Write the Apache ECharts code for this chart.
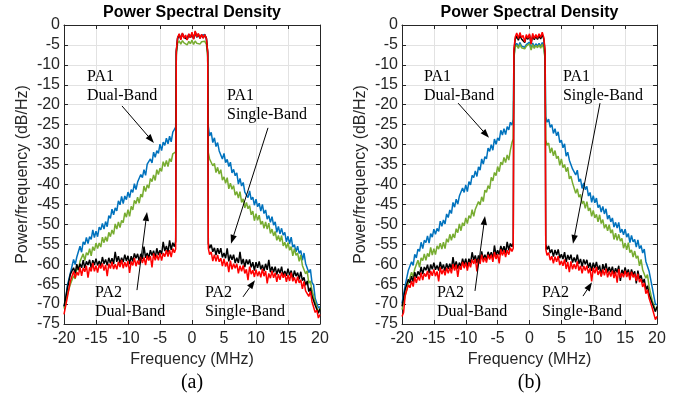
<!DOCTYPE html>
<html>
<head>
<meta charset="utf-8">
<script src="https://cdn.jsdelivr.net/npm/echarts@6.0.0/dist/echarts.min.js"></script>
<style>
html,body{margin:0;padding:0;background:#fff;}
#c{width:680px;height:398px;}
</style>
</head>
<body>
<div id="c"></div>
<script>
// ---------- DATA ----------
const freq = [
  -20,-19.75,-19.5,-19.25,-19,-18.75,-18.5,-18.25,-18,-17.75,-17.5,-17.25,-17,-16.75,-16.5,-16.25,-16,-15.75,-15.5,-15.25,
  -15,-14.75,-14.5,-14.25,-14,-13.75,-13.5,-13.25,-13,-12.75,-12.5,-12.25,-12,-11.75,-11.5,-11.25,-11,-10.75,-10.5,-10.25,
  -10,-9.75,-9.5,-9.25,-9,-8.75,-8.5,-8.25,-8,-7.75,-7.5,-7.25,-7,-6.75,-6.5,-6.25,-6,-5.75,-5.5,-5.25,
  -5,-4.75,-4.5,-4.25,-4,-3.75,-3.5,-3.25,-3,
  -2.75,-2.55,
  -2.45,-2.25,-2,-1.75,-1.5,-1.25,-1,-0.75,-0.5,-0.25,0,0.25,0.5,0.75,1,1.25,1.5,1.75,2,2.25,2.45,
  2.55,2.75,
  3,3.25,3.5,3.75,4,4.25,4.5,4.75,5,5.25,5.5,5.75,6,6.25,6.5,6.75,7,7.25,7.5,7.75,
  8,8.25,8.5,8.75,9,9.25,9.5,9.75,10,10.25,10.5,10.75,11,11.25,11.5,11.75,12,12.25,12.5,12.75,
  13,13.25,13.5,13.75,14,14.25,14.5,14.75,15,15.25,15.5,15.75,16,16.25,16.5,16.75,17,17.25,17.5,17.75,
  18,18.25,18.5,18.75,19,19.25,19.5,19.75,20];

const xTicks = [-20,-15,-10,-5,0,5,10,15,20];
const yTicks = [-75,-70,-65,-60,-55,-50,-45,-40,-35,-30,-25,-20,-15,-10,-5,0];

// ----- (a) -----
const blueA = [
  -70.6,-69.2,-65.5,-65.6,-62.2,-61.9,-58.8,-60.1,-58.2,-58.3,-55.5,-57.0,-54.4,-55.1,-53.3,-54.8,-53.1,-53.8,-51.4,-53.3,
  -51.7,-53.1,-50.7,-51.4,-49.8,-51.2,-49.3,-50.6,-47.8,-48.5,-46.2,-47.6,-45.9,-46.6,-44.1,-45.1,-43.0,-44.8,-42.9,-43.8,
  -41.9,-43.3,-41.3,-42.0,-39.8,-41.3,-39.4,-39.9,-37.5,-38.3,-36.3,-37.7,-34.9,-35.4,-33.6,-34.6,-31.9,-33.2,-31.5,-32.2,
  -29.9,-31.5,-29.4,-30.2,-28.4,-29.8,-27.9,-29.3,-26.9,
  -26.2,-25.6,
  -6.8,-3.4,-2.6,-3.3,-2.2,-3.0,-2.9,-3.5,-2.3,-3.2,-2.4,-3.4,-1.9,-3.1,-2.5,-3.2,-2.6,-3.1,-2.4,-3.5,-7.0,
  -25.4,-27.8,
  -26.9,-29.5,-28.3,-30.5,-29.5,-31.6,-31.2,-33.6,-32.2,-34.5,-33.7,-35.5,-34.4,-37.1,-36.2,-37.8,-37.1,-39.9,-38.5,-40.4,
  -39.5,-41.9,-41.5,-43.3,-41.6,-43.8,-43.2,-45.2,-43.7,-45.6,-44.7,-46.7,-45.0,-47.3,-46.4,-48.7,-47.8,-49.5,-48.1,-50.2,
  -49.4,-52.0,-50.5,-52.4,-51.0,-52.7,-52.0,-54.4,-53.0,-54.9,-53.2,-55.7,-55.1,-56.9,-55.5,-57.3,-56.6,-59.0,-57.2,-59.8,
  -59.7,-62.1,-61.3,-64.6,-65.2,-68.6,-68.5,-71.0,-70.6];
const greenA = [
  -71.1,-71.3,-67.8,-68.0,-65.0,-65.2,-62.9,-63.7,-60.7,-61.5,-59.3,-59.8,-57.4,-59.1,-57.1,-57.7,-56.1,-57.9,-55.6,-56.6,
  -54.7,-56.1,-54.7,-55.7,-53.2,-54.6,-53.1,-54.3,-52.0,-53.1,-51.4,-52.5,-49.9,-51.2,-49.4,-50.8,-49.0,-49.6,-47.1,-48.2,
  -46.3,-48.0,-45.5,-46.4,-44.0,-44.8,-43.2,-44.7,-42.4,-43.2,-40.4,-41.8,-40.1,-40.9,-38.5,-39.3,-37.6,-39.0,-36.3,-37.5,
  -35.9,-36.7,-34.3,-35.5,-34.0,-35.5,-33.5,-34.3,-32.3,
  -32.8,-31.8,
  -7.5,-4.6,-4.0,-4.8,-3.9,-4.5,-4.2,-5.0,-4.1,-4.7,-3.8,-4.9,-4.0,-4.6,-4.1,-4.8,-4.2,-4.7,-4.1,-4.9,-7.8,
  -32.0,-33.6,
  -33.1,-35.3,-34.7,-37.0,-35.7,-37.4,-36.3,-38.9,-38.1,-39.7,-38.3,-41.1,-39.7,-41.2,-40.3,-42.7,-41.8,-43.4,-41.8,-44.5,
  -43.6,-45.9,-44.5,-46.1,-45.3,-47.6,-46.7,-49.1,-47.3,-49.0,-47.7,-50.0,-49.2,-51.0,-49.4,-51.2,-49.7,-52.3,-51.2,-52.9,
  -51.8,-54.0,-52.8,-54.3,-52.8,-55.4,-54.5,-56.0,-54.6,-56.5,-55.6,-57.9,-56.1,-57.8,-57.2,-59.3,-57.7,-60.3,-60.0,-62.4,
  -61.7,-64.8,-64.2,-66.6,-66.5,-69.5,-69.3,-72.1,-71.1];
const blackA = [
  -70.6,-70.3,-66.3,-66.0,-62.5,-62.9,-60.9,-62.3,-60.0,-61.5,-59.9,-60.9,-59.0,-61.0,-59.3,-60.2,-58.9,-61.0,-59.0,-60.2,
  -58.6,-60.3,-59.2,-60.4,-58.2,-59.9,-58.8,-60.3,-58.4,-59.8,-58.5,-59.9,-56.9,-59.4,-58.0,-59.8,-58.4,-59.5,-57.6,-59.2,
  -57.9,-60.0,-58.0,-59.3,-57.3,-58.5,-57.4,-59.3,-57.4,-58.7,-55.6,-58.4,-57.2,-58.5,-56.5,-57.8,-56.6,-58.4,-56.0,-57.7,
  -56.5,-57.5,-54.4,-56.7,-55.4,-57.1,-54.0,-56.4,-54.6,
  -55.6,-54.3,
  -6.6,-3.3,-2.4,-3.5,-2.2,-3.1,-2.7,-3.6,-2.4,-3.1,-2.1,-3.4,-1.7,-3.0,-2.3,-3.3,-2.5,-3.2,-2.5,-3.3,-6.9,
  -54.8,-56.0,
  -55.1,-56.9,-55.9,-57.7,-56.0,-57.4,-56.0,-58.3,-57.2,-58.5,-56.0,-59.3,-57.6,-58.9,-57.6,-59.7,-58.4,-59.7,-56.9,-60.0,
  -58.7,-60.7,-58.8,-60.0,-58.8,-60.8,-59.5,-61.6,-59.5,-60.9,-59.3,-61.3,-60.2,-61.7,-59.9,-61.4,-58.9,-62.0,-60.6,-62.0,
  -60.6,-62.6,-61.1,-62.3,-60.6,-62.9,-61.7,-62.9,-61.1,-62.8,-61.6,-63.7,-61.6,-63.0,-62.1,-63.8,-61.9,-64.1,-63.3,-65.3,
  -64.2,-66.9,-65.9,-68.0,-67.5,-70.3,-69.8,-72.3,-71.1];
const redA = [
  -72.6,-72.2,-68.5,-68.1,-64.2,-64.2,-61.8,-63.5,-62.0,-62.8,-60.8,-62.9,-60.9,-61.9,-60.4,-63.4,-60.8,-61.8,-59.7,-61.8,
  -60.4,-62.1,-60.1,-61.1,-59.8,-61.6,-60.2,-63.0,-59.9,-61.1,-59.4,-61.2,-60.0,-61.3,-59.4,-60.7,-58.9,-61.0,-59.5,-60.7,
  -59.2,-62.2,-59.3,-60.3,-58.4,-60.5,-59.1,-60.1,-58.2,-59.7,-58.3,-60.2,-57.9,-59.1,-58.0,-60.8,-57.3,-59.0,-57.7,-59.0,
  -57.2,-59.1,-57.2,-58.1,-56.5,-58.1,-56.5,-58.2,-56.1,
  -57.1,-56.2,
  -6.3,-3.2,-2.2,-3.7,-2.0,-3.3,-2.5,-3.8,-2.2,-3.2,-1.8,-3.6,-1.5,-3.0,-2.1,-3.4,-2.3,-3.3,-2.4,-3.4,-6.6,
  -56.0,-57.6,
  -56.9,-59.2,-57.6,-59.3,-57.7,-59.4,-58.5,-60.5,-58.7,-60.6,-59.4,-62.0,-59.1,-61.3,-59.9,-61.0,-59.9,-62.3,-60.4,-61.8,
  -60.3,-62.3,-61.3,-64.0,-60.6,-62.5,-61.5,-63.2,-61.4,-63.0,-61.8,-63.3,-61.2,-63.0,-61.7,-64.8,-62.3,-63.5,-61.7,-63.4,
  -62.2,-64.4,-62.5,-63.9,-62.1,-63.4,-62.4,-64.4,-62.7,-64.2,-62.1,-64.3,-63.3,-64.8,-63.1,-64.7,-63.9,-66.2,-64.3,-66.7,
  -66.2,-68.1,-66.8,-69.4,-69.2,-72.1,-71.5,-73.5,-72.6];

// ----- (b) -----
const blueB = [
  -69.8,-69.3,-65.3,-65.0,-61.5,-61.7,-59.4,-60.3,-57.5,-58.4,-56.2,-56.8,-54.5,-56.1,-54.0,-54.6,-52.9,-54.7,-52.3,-53.2,
  -51.2,-52.5,-51.0,-51.8,-49.2,-50.5,-48.9,-49.9,-47.4,-48.3,-46.4,-47.3,-44.5,-45.7,-43.7,-44.9,-42.9,-43.4,-40.9,-42.0,
  -40.1,-41.8,-39.3,-40.1,-37.7,-38.3,-36.6,-38.0,-35.6,-36.4,-33.6,-34.9,-33.0,-33.6,-30.9,-31.7,-30.0,-31.4,-28.6,-29.9,
  -28.3,-29.0,-26.4,-27.6,-26.0,-27.5,-25.5,-26.3,-24.4,
  -25.1,-23.6,
  -8.0,-5.2,-4.6,-5.5,-4.4,-5.3,-4.8,-5.6,-4.9,-5.4,-4.3,-6.0,-4.5,-5.5,-4.7,-5.3,-4.6,-5.4,-4.4,-5.6,-8.2,
  -23.0,-24.4,
  -23.6,-25.7,-25.0,-27.2,-26.0,-27.8,-26.8,-29.5,-28.9,-30.8,-29.8,-32.9,-31.9,-33.9,-33.4,-36.1,-35.6,-37.6,-36.4,-39.3,
  -38.6,-41.0,-39.6,-41.3,-40.5,-42.9,-42.0,-44.5,-42.8,-44.6,-43.4,-45.8,-45.1,-46.9,-45.5,-47.4,-46.1,-48.7,-47.7,-49.4,
  -48.4,-50.7,-49.5,-50.9,-49.5,-52.1,-51.2,-52.6,-51.2,-53.2,-52.3,-54.6,-52.8,-54.4,-53.8,-55.7,-53.9,-56.1,-55.3,-57.2,
  -56.2,-59.3,-58.9,-61.7,-62.0,-65.8,-66.3,-70.1,-70.1];
const greenB = [
  -71.4,-71.0,-68.0,-68.1,-64.7,-64.7,-62.0,-63.2,-61.2,-61.5,-59.0,-60.8,-58.4,-59.1,-57.4,-59.0,-57.3,-58.1,-55.8,-57.7,
  -56.1,-57.6,-55.4,-56.2,-54.7,-56.2,-54.5,-56.1,-53.6,-54.5,-52.5,-54.0,-52.4,-53.4,-51.1,-52.1,-49.9,-51.6,-49.6,-50.4,
  -48.4,-49.8,-47.8,-48.5,-46.3,-48.0,-46.2,-46.7,-44.3,-45.1,-43.1,-44.3,-41.4,-42.0,-40.3,-41.1,-38.2,-39.1,-37.0,-37.8,
  -35.5,-36.8,-34.4,-35.1,-33.2,-34.5,-32.6,-33.9,-31.4,
  -29.5,-28.6,
  -8.4,-5.6,-5.0,-5.9,-4.8,-5.7,-5.2,-6.0,-5.3,-5.8,-4.7,-6.3,-4.9,-5.9,-5.1,-5.7,-5.0,-5.8,-4.8,-6.0,-8.6,
  -28.8,-30.2,
  -29.6,-32.1,-30.8,-32.8,-31.5,-33.5,-32.9,-35.2,-33.6,-35.8,-35.0,-36.8,-35.7,-38.6,-37.9,-39.6,-39.1,-42.2,-41.1,-43.2,
  -42.5,-44.8,-44.2,-46.0,-44.3,-46.6,-45.9,-48.0,-46.5,-48.4,-47.5,-49.4,-47.6,-49.8,-48.8,-51.0,-50.0,-51.6,-50.1,-52.2,
  -51.3,-53.8,-52.2,-54.0,-52.5,-54.2,-53.5,-56.0,-54.7,-56.4,-54.6,-57.1,-56.4,-58.2,-56.7,-58.5,-57.9,-60.4,-58.8,-61.4,
  -61.2,-63.5,-62.6,-65.5,-65.7,-69.1,-69.0,-71.5,-71.1];
const blackB = [
  -70.6,-70.1,-66.3,-66.6,-63.8,-64.7,-63.0,-64.4,-62.0,-63.4,-61.8,-62.7,-60.7,-62.5,-60.7,-61.5,-60.1,-62.2,-60.1,-61.3,
  -59.6,-61.4,-60.3,-61.6,-59.4,-61.2,-60.1,-61.7,-59.8,-61.2,-59.9,-61.3,-58.2,-60.8,-59.3,-61.1,-59.6,-60.6,-58.6,-60.1,
  -58.6,-60.7,-58.6,-59.8,-57.0,-59.0,-57.8,-59.7,-57.8,-59.1,-56.8,-58.8,-57.6,-58.9,-56.9,-58.2,-57.0,-58.7,-55.3,-57.8,
  -56.5,-57.6,-55.4,-56.8,-55.5,-57.2,-54.4,-56.5,-54.8,
  -55.6,-54.6,
  -6.8,-3.6,-2.8,-3.8,-2.6,-3.5,-3.2,-4.4,-2.9,-3.6,-2.5,-4.6,-2.6,-3.7,-2.8,-3.6,-2.7,-3.5,-2.4,-3.6,-7.0,
  -55.0,-56.3,
  -55.4,-57.2,-56.3,-58.1,-56.4,-57.7,-56.3,-58.5,-57.5,-58.7,-57.0,-59.5,-57.7,-58.9,-57.6,-59.6,-58.3,-59.5,-57.6,-59.9,
  -58.7,-60.6,-58.8,-60.0,-58.9,-60.9,-59.6,-61.7,-59.6,-61.0,-59.4,-61.4,-60.3,-63.0,-60.0,-61.5,-59.8,-62.1,-60.7,-62.0,
  -60.6,-62.5,-61.0,-62.1,-60.4,-64.2,-61.4,-62.5,-60.8,-62.5,-61.3,-63.4,-61.3,-62.7,-61.8,-64.8,-61.6,-63.7,-62.8,-64.7,
  -63.7,-66.4,-65.4,-67.5,-67.0,-69.8,-69.3,-71.9,-70.6];
const redB = [
  -73.1,-72.1,-67.8,-68.0,-65.2,-65.9,-64.2,-65.6,-63.2,-64.7,-63.1,-64.1,-62.1,-64.0,-62.3,-63.1,-61.7,-63.8,-61.7,-62.9,
  -61.3,-63.0,-61.8,-64.3,-60.8,-62.5,-61.3,-62.8,-60.9,-62.3,-60.9,-62.3,-60.0,-61.6,-60.1,-63.2,-60.4,-61.4,-59.4,-61.0,
  -59.6,-61.6,-59.5,-60.8,-58.8,-59.9,-58.7,-61.8,-58.7,-59.9,-57.6,-59.5,-58.3,-59.6,-57.6,-58.8,-57.6,-59.4,-57.0,-58.7,
  -57.5,-59.8,-56.3,-57.8,-56.5,-58.2,-56.5,-57.6,-55.9,
  -56.8,-56.0,
  -6.2,-3.1,-2.0,-3.4,-1.9,-3.2,-2.6,-4.3,-2.4,-3.3,-2.2,-4.8,-2.1,-3.4,-2.4,-3.3,-2.2,-3.1,-1.8,-3.2,-6.5,
  -56.2,-57.8,
  -57.1,-59.0,-58.0,-59.8,-58.1,-59.4,-58.0,-60.2,-59.2,-60.4,-58.8,-61.2,-59.4,-62.0,-59.3,-61.3,-60.0,-61.2,-59.3,-61.6,
  -60.4,-62.3,-60.4,-61.6,-60.4,-62.3,-61.0,-64.3,-60.9,-62.3,-60.7,-62.7,-61.6,-63.1,-61.3,-62.8,-61.1,-63.3,-61.8,-63.1,
  -61.6,-63.5,-61.9,-64.6,-61.2,-63.4,-62.2,-63.3,-61.6,-63.2,-62.0,-64.0,-61.9,-63.3,-62.4,-64.2,-62.4,-64.5,-63.7,-65.7,
  -64.7,-67.4,-66.4,-68.5,-68.0,-71.0,-70.8,-73.9,-73.1];

// annotations: [text, x, y(top of text)] in data units; arrows [[x1,y1],[x2,y2]]
const labelsA = [["PA1\nDual-Band", -16.4, -10.7], ["PA1\nSingle-Band", 5.47, -15.5], ["PA2\nDual-Band", -15.16, -64.9], ["PA2\nSingle-Band", 2.03, -64.9]];
const labelsB = [["PA1\nDual-Band", -16.55, -10.7], ["PA1\nSingle-Band", 5.25, -10.7], ["PA2\nDual-Band", -14.5, -64.9], ["PA2\nSingle-Band", 1.96, -64.9]];
const arrowsA = [[[-10.94,-20.3],[-5.94,-29.6]], [[11.875,-25.8],[6.09,-54.9]], [[-8.6,-66.5],[-7.03,-46.9]], [[7.97,-68.2],[9.84,-64.0]]];
const arrowsB = [[[-11.2,-19.6],[-6.35,-28.3]], [[11.06,-19.6],[6.82,-54.9]], [[-8.55,-66.7],[-6.98,-47.9]], [[8.39,-68.0],[9.8,-64.5]]];

const seriesNames = ["PA1 Dual-Band", "PA1 Single-Band", "PA2 Dual-Band", "PA2 Single-Band"];
const colors = ["#0072BD", "#77AC30", "#000000", "#FF0000"];

[blueA,greenA,blackA,redA,blueB,greenB,blackB,redB].forEach((a,i)=>{
  if (a.length !== freq.length) throw new Error("length mismatch series " + i + ": " + a.length + " vs " + freq.length);
});

// ---------- CHART ----------
const chart = echarts.init(document.getElementById('c'), null, {renderer:'canvas'});
const SANS = '"Liberation Sans", Arial, Helvetica, sans-serif';
const SERIF = '"Liberation Serif", "Times New Roman", serif';
const AX = '#262626';

function xAxisBottom(g) {
  return {
    type:'value', gridIndex:g, min:xTicks[0], max:xTicks[xTicks.length-1], interval:5, position:'bottom',
    name:'Frequency (MHz)', nameLocation:'middle', nameGap:26,
    nameTextStyle:{fontSize:16, color:AX, fontFamily:SANS},
    axisLine:{show:true, onZero:false, lineStyle:{color:AX, width:1}},
    axisTick:{show:true, inside:true, length:4, lineStyle:{color:AX}},
    axisLabel:{show:true, color:AX, fontSize:16, fontFamily:SANS, margin:7, showMinLabel:true, showMaxLabel:true},
    splitLine:{show:true, lineStyle:{color:'#e2e2e2', width:1}}
  };
}
function xAxisTop(g) {
  return {
    type:'value', gridIndex:g, min:-20, max:20, interval:5, position:'top',
    axisLine:{show:true, onZero:false, lineStyle:{color:AX, width:1}},
    axisTick:{show:true, inside:true, length:4, lineStyle:{color:AX}},
    axisLabel:{show:false}, splitLine:{show:false}
  };
}
function yAxisLeft(g) {
  return {
    type:'value', gridIndex:g, min:yTicks[0], max:yTicks[yTicks.length-1], interval:5, position:'left',
    name:'Power/frequency (dB/Hz)', nameLocation:'middle', nameGap:33,
    nameTextStyle:{fontSize:16, color:AX, fontFamily:SANS},
    axisLine:{show:true, onZero:false, lineStyle:{color:AX, width:1}},
    axisTick:{show:true, inside:true, length:4, lineStyle:{color:AX}},
    axisLabel:{show:true, color:AX, fontSize:16, fontFamily:SANS, margin:4, showMinLabel:true, showMaxLabel:true},
    splitLine:{show:true, lineStyle:{color:'#e2e2e2', width:1}}
  };
}
function yAxisRight(g) {
  return {
    type:'value', gridIndex:g, min:-75, max:0, interval:5, position:'right',
    axisLine:{show:true, onZero:false, lineStyle:{color:AX, width:1}},
    axisTick:{show:true, inside:true, length:4, lineStyle:{color:AX}},
    axisLabel:{show:false}, splitLine:{show:false}
  };
}

function mkSeries(arrs, xi, yi) {
  return arrs.map((arr, k) => ({
    name: seriesNames[k], type:'line', xAxisIndex:xi, yAxisIndex:yi,
    data: freq.map((f,i)=>[f, arr[i]]),
    showSymbol:false, symbol:'none', smooth:false,
    lineStyle:{color:colors[k], width:1.5}, itemStyle:{color:colors[k]},
    z: 2 + k, silent:true, animation:false
  }));
}

const option = {
  backgroundColor:'#fff',
  animation:false,
  grid:[{left:64, top:25, width:256, height:299}, {left:402, top:25, width:255, height:299}],
  xAxis:[xAxisBottom(0), xAxisTop(0), xAxisBottom(1), xAxisTop(1)],
  yAxis:[yAxisLeft(0), yAxisRight(0), yAxisLeft(1), yAxisRight(1)],
  series:[
    ...mkSeries([blueA, greenA, blackA, redA], 0, 0),
    ...mkSeries([blueB, greenB, blackB, redB], 2, 2)
  ]
};
chart.setOption(option);

// overlays positioned through the axes
const gfx = [];
function px(g, pt) { return chart.convertToPixel({xAxisIndex: g*2, yAxisIndex: g*2}, pt); }
function addTitle(g, letter) {
  const c = px(g, [0, 0]);
  gfx.push({type:'text', x:c[0], y:13, silent:true,
    style:{text:'Power Spectral Density', font:'bold 16px ' + SANS, fill:'#000', align:'center', verticalAlign:'middle'}});
  gfx.push({type:'text', x:c[0], y:383, silent:true,
    style:{text:letter, font:'20px ' + SERIF, fill:'#000', align:'center', verticalAlign:'middle'}});
}
function addLabels(labels, g) {
  labels.forEach(([t, x, y]) => {
    const p = px(g, [x, y]);
    gfx.push({type:'text', x:p[0], y:p[1], silent:true, z:20,
      style:{text:t, font:'16px ' + SERIF, fill:'#000', align:'left', verticalAlign:'top', lineHeight:18.7}});
  });
}
function addArrows(arrows, g) {
  arrows.forEach(([a, b]) => {
    const p1 = px(g, a), p2 = px(g, b);
    const dx = p2[0]-p1[0], dy = p2[1]-p1[1], L = Math.hypot(dx, dy);
    const ux = dx/L, uy = dy/L, nx = -uy, ny = ux;
    const hl = 9, hw = 3.2;
    const bx = p2[0]-ux*hl, by = p2[1]-uy*hl;
    gfx.push({type:'line', silent:true, z:20,
      shape:{x1:p1[0], y1:p1[1], x2:bx, y2:by}, style:{stroke:'#000', lineWidth:1}});
    gfx.push({type:'polygon', silent:true, z:20,
      shape:{points:[[p2[0],p2[1]],[bx+nx*hw, by+ny*hw],[bx-nx*hw, by-ny*hw]]}, style:{fill:'#000'}});
  });
}
addTitle(0, '(a)'); addTitle(1, '(b)');
addLabels(labelsA, 0); addLabels(labelsB, 1);
addArrows(arrowsA, 0); addArrows(arrowsB, 1);
chart.setOption({graphic: gfx});
</script>
</body>
</html>
